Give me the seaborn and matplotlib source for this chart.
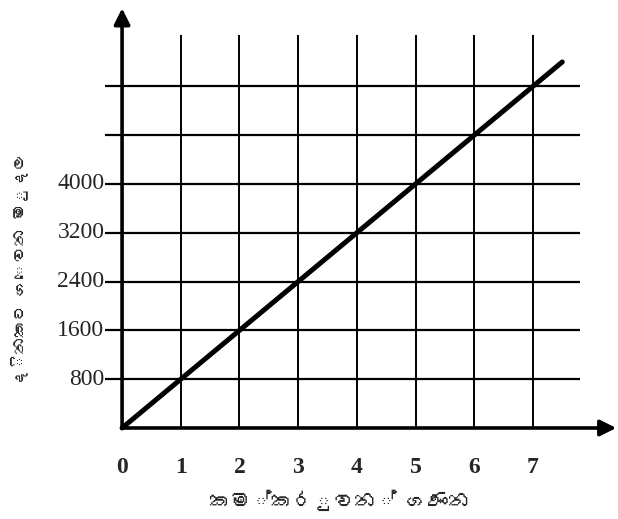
import matplotlib
matplotlib.use('Agg')
import matplotlib.pyplot as plt
import seaborn as sns
from matplotlib import font_manager
from fontTools.ttLib import TTFont

# values: 800 per worker per day
workers = [0, 7.5]
daily_pay = [0, 6000]
x_ticks = [0, 1, 2, 3, 4, 5, 6, 7]
x_tick_labels = ['0', '1', '2', '3', '4', '5', '6', '7']
y_grid = [800, 1600, 2400, 3200, 4000, 4800, 5600]
y_tick_labels = ['800', '1600', '2400', '3200', '4000', '', '']
x_title = 'කම්කරුවන් ගණන'
y_title = 'දිනකට ගෙවන මුදල'


def find_sinhala_font():
    # look for any installed font that has Sinhala glyphs
    for path in font_manager.findSystemFonts():
        try:
            font = TTFont(path, fontNumber=0, lazy=True)
            if 0x0D9A in font.getBestCmap():
                return font_manager.FontProperties(fname=path)
        except Exception:
            continue
    return None


sns.set_style('white')
plt.rcParams['font.family'] = ['Liberation Serif', 'DejaVu Serif']

fig = plt.figure(figsize=(6.18, 5.19), dpi=100)
ax = fig.add_axes([0, 0, 1, 1])
ax.set_xlim(-2.08, 8.45)
ax.set_ylim(-1492, 7016)
ax.axis('off')

# grid
ax.hlines(y_grid, -0.29, 7.8, color='black', lw=1.6)
ax.vlines(x_ticks[1:], 0, 6440, color='black', lw=1.4)

# axes with arrows
arrow = dict(arrowstyle='-|>', lw=2.6, color='black', mutation_scale=24, shrinkA=0, shrinkB=0)
ax.annotate('', xy=(8.42, 0), xytext=(0, 0), arrowprops=arrow)
ax.annotate('', xy=(0, 6880), xytext=(0, 0), arrowprops=arrow)

# the pay line
sns.lineplot(x=workers, y=daily_pay, color='black', lw=3.6, ax=ax)

for x, lab in zip(x_ticks, x_tick_labels):
    ax.text(x, -640, lab, ha='center', va='center', fontsize=17, fontweight='bold')
for y, lab in zip(y_grid, y_tick_labels):
    ax.text(-0.3, y, lab, ha='right', va='center', fontsize=17)

sin_font = find_sinhala_font()
if sin_font is not None:
    sin_x = sin_font.copy()
    sin_x.set_size(15)
    sin_y = sin_font.copy()
    sin_y.set_size(12)
else:
    sin_x = sin_y = None
ax.text(3.71, -1180, x_title, ha='center', va='center', fontproperties=sin_x)
ax.text(-1.74, 2590, y_title, ha='center', va='center', rotation=90, fontproperties=sin_y)

fig.savefig('out.png', dpi=100)
